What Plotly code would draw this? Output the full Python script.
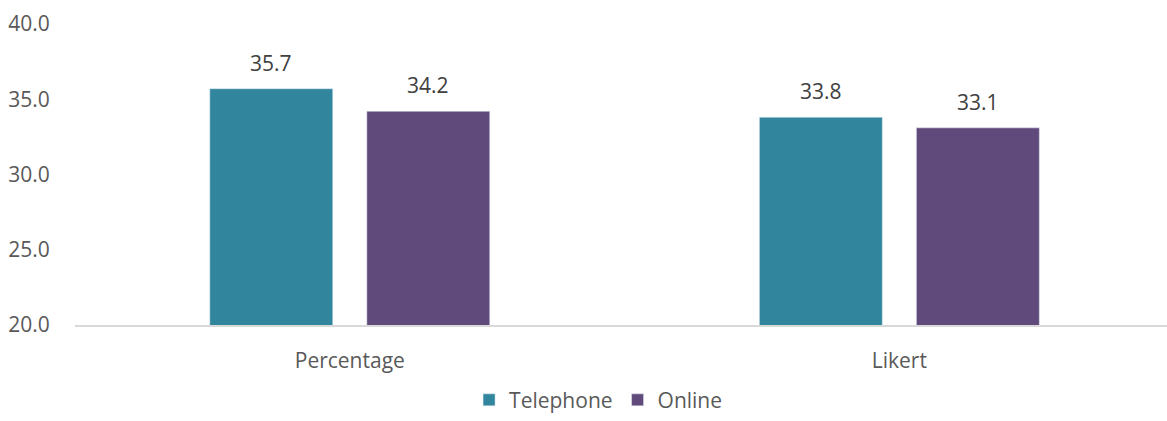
import plotly.graph_objects as go

categories = ["Percentage", "Likert"]
telephone = [35.7, 33.8]
online = [34.2, 33.1]
y_ticks = [20, 25, 30, 35, 40]

FONT = "Open Sans"
GRAY = "#595959"
SIZE = 21

fig = go.Figure()
fig.add_trace(go.Bar(name="Telephone", x=categories, y=telephone,
                     marker=dict(color="#31859C")))
fig.add_trace(go.Bar(name="Online", x=categories, y=online,
                     marker=dict(color="#604A7B")))

# data labels
for vals, xs in ((telephone, -78.5), (online, 78.5)):
    for c, v in zip(categories, vals):
        fig.add_annotation(x=c, y=v, text=f"{v:.1f}", showarrow=False,
                           xshift=xs, yshift=26, yanchor="middle",
                           font=dict(size=SIZE, color="#404040", family=FONT))

fig.update_layout(
    width=1167, height=421,
    margin=dict(l=75, r=0, t=24, b=96, autoexpand=False),
    paper_bgcolor="white", plot_bgcolor="white",
    barmode="group", bargap=0.4286, bargroupgap=0.217,
    font=dict(family=FONT, size=SIZE, color=GRAY),
    showlegend=True,
    legend=dict(orientation="h", x=0.479, xanchor="center", y=-0.318, yanchor="bottom",
                font=dict(size=SIZE, color=GRAY), itemwidth=30, tracegroupgap=0),
    xaxis=dict(range=[-0.5, 1.487], showline=True, linecolor="#d9d9d9", linewidth=1.5,
               ticks="outside", ticklen=16, tickcolor="rgba(0,0,0,0)",
               tickfont=dict(size=SIZE, color=GRAY), automargin=False),
    yaxis=dict(range=[20, 40], tickvals=y_ticks, tickformat=".1f",
               showgrid=False, zeroline=False, showline=False,
               ticks="outside", ticklen=20, tickcolor="rgba(0,0,0,0)",
               tickfont=dict(size=SIZE, color=GRAY), automargin=False),
)

fig.write_html("out.html")
